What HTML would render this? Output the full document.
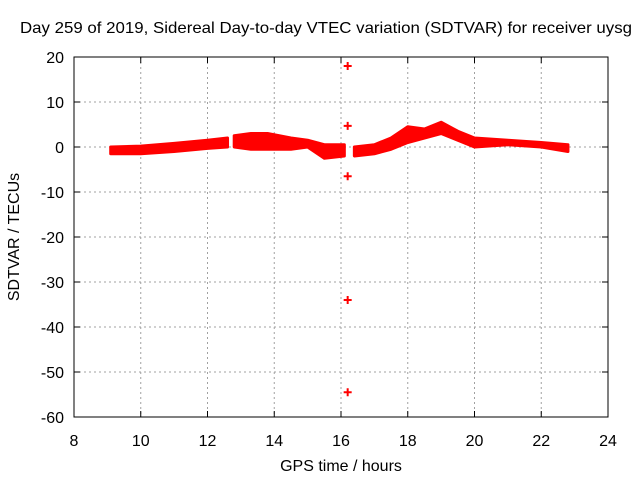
<!DOCTYPE html>
<html><head><meta charset="utf-8"><style>
body{margin:0;background:#fff}
svg{display:block;font-family:"Liberation Sans",sans-serif}
</style></head><body>
<svg id="chart" width="640" height="480"></svg>
<script>
const bandHours=[9.1,10,11,12,12.6,12.8,13.3,13.8,14.5,15,15.5,16.1,16.4,17,17.5,18,18.5,19,19.5,20,21,22,22.8];
const bandUpper=[0,0.2,0.8,1.5,2,2.5,3,3,2,1.5,0.5,0.5,0,0.5,2,4.5,4,5.5,3.5,2,1.5,1,0.5];
const bandLower=[-1.5,-1.5,-1,-0.3,0,0,-0.5,-0.5,-0.5,0,-2.5,-2,-2,-1.5,-0.5,1,2,3,1.5,0,0.5,0,-1];
const gaps=[[12.6,12.8],[16.1,16.4]];
const outlierHours=[16.2,16.2,16.2,16.2,16.2];
const outlierValues=[18,4.7,-6.5,-34,-54.5];
const xTicks=[8,10,12,14,16,18,20,22,24];
const yTicks=[20,10,0,-10,-20,-30,-40,-50,-60];
const NS="http://www.w3.org/2000/svg";
const svg=document.getElementById('chart');
const L=74,R=608,T=57,B=417;
const X=h=>L+(h-8)/(24-8)*(R-L);
const Y=v=>T+(20-v)/(80)*(B-T);
function mk(tag,attrs,parent){const e=document.createElementNS(NS,tag);for(const k in attrs)e.setAttribute(k,attrs[k]);(parent||svg).appendChild(e);return e;}
let t=mk('text',{x:20,y:33,'font-size':16,textLength:612,lengthAdjust:'spacingAndGlyphs',fill:'#000'});


t.textContent='Day 259 of 2019, Sidereal Day-to-day VTEC variation (SDTVAR) for receiver uysg';
xTicks.forEach(v=>{const x=X(v);
 if(v>8&&v<24){const g=mk('line',{x1:x,x2:x,y1:T,y2:B,stroke:'#a0a0a0','stroke-dasharray':'2,3'});
 
 }
 mk('line',{x1:x,x2:x,y1:B,y2:B-6,stroke:'#000'});mk('line',{x1:x,x2:x,y1:T,y2:T+6,stroke:'#000'});
 const l=mk('text',{x:x,y:B+29,'font-size':16,'text-anchor':'middle'});
 
 
 l.textContent=v;});
yTicks.forEach(v=>{const y=Y(v);
 if(v<20&&v>-60){const g=mk('line',{x1:L,x2:R,y1:y,y2:y,stroke:'#a0a0a0','stroke-dasharray':'2,3'});
 
 }
 mk('line',{x1:L,x2:L+6,y1:y,y2:y,stroke:'#000'});mk('line',{x1:R,x2:R-6,y1:y,y2:y,stroke:'#000'});
 const l=mk('text',{x:L-10,y:y+6,'font-size':16,'text-anchor':'end'});
 
 
 l.textContent=v;});
let seg=[];const segs=[];
bandHours.forEach((h,i)=>{seg.push(i);const gp=gaps.find(g=>g[0]===h);if(gp){segs.push(seg);seg=[];}});
if(seg.length)segs.push(seg);
segs.forEach(s=>{const pts=s.map(i=>X(bandHours[i])+','+Y(bandUpper[i])).concat(s.slice().reverse().map(i=>X(bandHours[i])+','+Y(bandLower[i])));
 const p=mk('polygon',{points:pts.join(' '),fill:'#ff0000',stroke:'#ff0000','stroke-width':3,'stroke-linejoin':'round'});
 
 });
outlierHours.forEach((h,i)=>{const x=X(h),y=Y(outlierValues[i]);
 const p=mk('path',{d:`M${x-4},${y}H${x+4}M${x},${y-4}V${y+4}`,stroke:'#ff0000','stroke-width':2});
 
 });
const fr=mk('rect',{x:L,y:T,width:R-L,height:B-T,fill:'none',stroke:'#000'});


const xt=mk('text',{x:(L+R)/2,y:471,'font-size':16,'text-anchor':'middle'});


xt.textContent='GPS time / hours';
const yt=mk('text',{x:0,y:0,'font-size':16,'text-anchor':'middle',transform:`translate(19,${(T+B)/2}) rotate(-90)`});


yt.textContent='SDTVAR / TECUs';
</script>
</body></html>
